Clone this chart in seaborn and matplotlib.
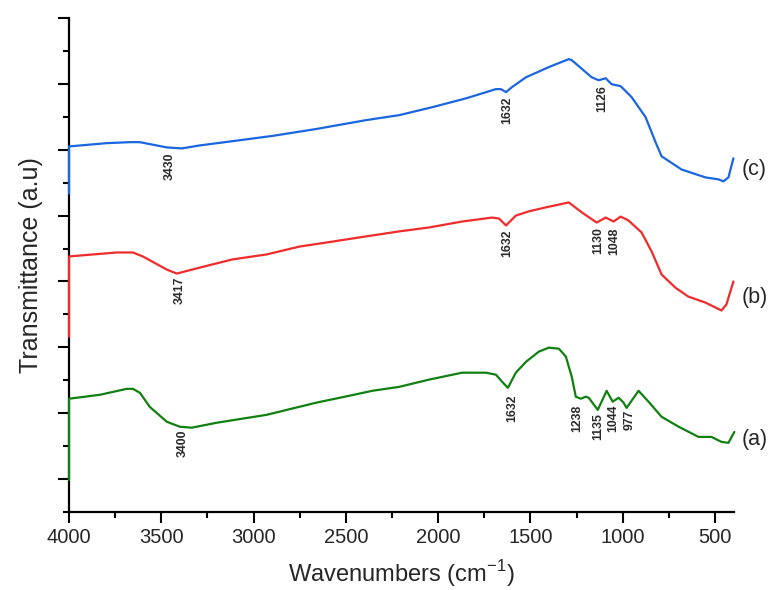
import numpy as np
import pandas as pd
import seaborn as sns
import matplotlib.pyplot as plt
import matplotlib.ticker as ticker

# spectrum (c) - blue
wn_c = [4000, 4000, 3795, 3670, 3616, 3470, 3389, 3292, 3114, 2897, 2660, 2389, 2211,
        2033, 1849, 1687, 1660, 1632, 1600, 1524, 1400, 1292, 1276, 1168, 1130, 1092,
        1060, 1011, 952, 876, 822, 789, 681, 552, 481, 454, 427, 400]
tr_c = [9.67, 11.10, 11.20, 11.23, 11.23, 11.07, 11.04, 11.13, 11.26, 11.42, 11.63, 11.90,
        12.05, 12.29, 12.56, 12.84, 12.84, 12.75, 12.90, 13.20, 13.51, 13.75, 13.72, 13.20,
        13.11, 13.17, 12.99, 12.93, 12.60, 11.99, 11.23, 10.80, 10.40, 10.16, 10.10, 10.04,
        10.16, 10.74]

# spectrum (b) - red
wn_b = [4000, 4000, 3741, 3654, 3600, 3470, 3416, 3292, 3114, 2930, 2751, 2573, 2389,
        2211, 2049, 1870, 1708, 1670, 1632, 1579, 1508, 1416, 1292, 1222, 1141, 1092,
        1049, 1011, 968, 898, 843, 789, 714, 644, 552, 465, 438, 400]
tr_b = [5.32, 7.76, 7.88, 7.88, 7.76, 7.36, 7.24, 7.42, 7.67, 7.82, 8.06, 8.21, 8.37,
        8.52, 8.64, 8.82, 8.94, 8.91, 8.70, 9.00, 9.13, 9.25, 9.40, 9.10, 8.79, 8.94,
        8.82, 8.97, 8.85, 8.49, 7.91, 7.21, 6.81, 6.54, 6.36, 6.12, 6.30, 7.00]

# spectrum (a) - green
wn_a = [4000, 4000, 3832, 3687, 3654, 3616, 3562, 3470, 3400, 3335, 3200, 2930, 2660,
        2481, 2357, 2211, 2049, 1870, 1741, 1687, 1654, 1622, 1579, 1524, 1454, 1400,
        1346, 1308, 1276, 1254, 1227, 1200, 1184, 1135, 1087, 1054, 1022, 995, 979,
        914, 860, 789, 697, 589, 519, 465, 427, 395]
tr_a = [0.97, 3.44, 3.56, 3.74, 3.74, 3.62, 3.19, 2.74, 2.59, 2.56, 2.71, 2.95, 3.32,
        3.53, 3.68, 3.80, 4.02, 4.23, 4.23, 4.17, 3.96, 3.77, 4.23, 4.56, 4.87, 4.99,
        4.96, 4.72, 4.11, 3.50, 3.44, 3.50, 3.47, 3.10, 3.68, 3.35, 3.47, 3.32, 3.16,
        3.68, 3.35, 2.89, 2.59, 2.28, 2.28, 2.13, 2.10, 2.43]

# peak labels: text, wavenumber, top of label
peak_text = ["3430", "1632", "1126",
             "3417", "1632", "1130", "1048",
             "3400", "1632", "1238", "1135", "1044", "977"]
peak_x = [3455, 1627, 1108,
          3400, 1627, 1130, 1044,
          3384, 1600, 1248, 1130, 1049, 962]
peak_y = [10.92, 12.63, 12.96,
          7.15, 8.58, 8.64, 8.64,
          2.49, 3.56, 3.26, 3.01, 3.26, 3.10]

sample_names = ["(c)", "(b)", "(a)"]
sample_y = [10.40, 6.50, 2.20]

df = pd.concat([
    pd.DataFrame({"wn": wn_c, "T": tr_c, "sample": "c"}),
    pd.DataFrame({"wn": wn_b, "T": tr_b, "sample": "b"}),
    pd.DataFrame({"wn": wn_a, "T": tr_a, "sample": "a"}),
])

sns.set_style("ticks")
plt.rcParams['font.family'] = ['Liberation Sans', 'DejaVu Sans']
plt.rcParams['mathtext.fontset'] = 'custom'
plt.rcParams['mathtext.rm'] = 'Liberation Sans'

fig = plt.figure(figsize=(7.78, 5.90), dpi=100)
ax = fig.add_axes([0.0887, 0.1322, 0.8547, 0.8373])

palette = {"c": "#1a66e0", "b": "#ef2b2b", "a": "#108010"}
sns.lineplot(data=df, x="wn", y="T", hue="sample", units="sample", estimator=None,
             sort=False, palette=palette, linewidth=1.6, legend=False, ax=ax)
for line in ax.lines:
    line.set_zorder(3)
    line.set_clip_on(False)

for t, x, y in zip(peak_text, peak_x, peak_y):
    ax.text(x, y, t, rotation=90, ha="center", va="top", fontsize=8.8,
            fontweight="bold", color="#2a2a2a")

for name, y in zip(sample_names, sample_y):
    ax.text(1.012, y, name, transform=ax.get_yaxis_transform(), fontsize=15.5,
            va="center", ha="left", clip_on=False)

ax.set_xlim(4000, 397)
ax.set_ylim(0, 15)
ax.xaxis.set_major_locator(ticker.MultipleLocator(500))
ax.xaxis.set_minor_locator(ticker.MultipleLocator(250))
ax.yaxis.set_major_locator(ticker.MultipleLocator(2, offset=1))
ax.yaxis.set_minor_locator(ticker.MultipleLocator(1))
ax.tick_params(axis="both", which="major", length=8, width=1.5, labelsize=14.5,
               color="black")
ax.tick_params(axis="both", which="minor", length=4.5, width=1.5, color="black")
ax.tick_params(axis="y", which="both", labelleft=False)

for s in ["left", "bottom"]:
    ax.spines[s].set_linewidth(1.6)
    ax.spines[s].set_color("black")
sns.despine(ax=ax)

ax.set_xlabel("Wavenumbers (cm$^{-1}$)", fontsize=17, labelpad=8)
ax.set_ylabel("Transmittance (a.u)", fontsize=18, labelpad=11)

fig.savefig("out.png", dpi=100)
